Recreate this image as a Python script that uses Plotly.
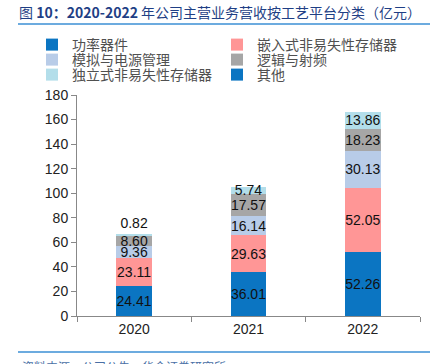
import plotly.graph_objects as go

years = ["2020", "2021", "2022"]
power = [24.41, 36.01, 52.26]
embedded = [23.11, 29.63, 52.05]
analog = [9.36, 16.14, 30.13]
logic_rf = [8.60, 17.57, 18.23]
standalone = [0.82, 5.74, 13.86]
other = [None, None, None]

names = ["功率器件", "嵌入式非易失性存储器", "模拟与电源管理", "逻辑与射频", "独立式非易失性存储器", "其他"]
colors = ["#0B75C2", "#FF9696", "#B8CCE8", "#A6A6A6", "#B3DEEA", "#0B75C2"]
series = [power, embedded, analog, logic_rf, standalone, other]
legend_ids = ["legend", "legend2", "legend3", "legend4", "legend5", "legend6"]

W, H = 434, 364
L, R, T, B = 77, 420, 95, 316


def xp(px):
    return (px - L) / (R - L)


def yp(py):
    return (B - py) / (B - T)


fig = go.Figure()
for i, (nm, vals, col, lg) in enumerate(zip(names, series, colors, legend_ids)):
    tp = "inside"
    if i == 4:
        tp = ["outside", "inside", "inside"]
    fig.add_trace(go.Bar(
        x=years, y=vals, name=nm, marker=dict(color=col, line=dict(width=0)),
        text=[f"{v:.2f}" if v is not None else "" for v in vals],
        textposition=tp, insidetextanchor="middle", textangle=0,
        textfont=dict(color="#111111", size=14, family="Liberation Sans, Arial"),
        outsidetextfont=dict(color="#111111", size=14, family="Liberation Sans, Arial"),
        constraintext="none", cliponaxis=False,
        legend=lg, width=0.31,
    ))

leg_common = dict(orientation="v", xanchor="left", yanchor="middle",
                  font=dict(size=14, color="#505050", family="Noto Sans CJK SC"),
                  bgcolor="rgba(0,0,0,0)", itemclick=False, itemdoubleclick=False)

leg_pos = [(32, 45), (217, 45), (32, 60), (217, 60), (32, 75), (217, 75)]
leg_layout = {}
for lg, (lx, ly) in zip(legend_ids, leg_pos):
    leg_layout[lg] = dict(x=xp(lx), y=yp(ly), **leg_common)

fig.update_layout(
    width=W, height=H,
    margin=dict(l=L, r=W - R, t=T, b=H - B, pad=0),
    paper_bgcolor="white", plot_bgcolor="white",
    barmode="stack",
    uniformtext=dict(minsize=14, mode="show"),
    showlegend=True,
    font=dict(family="Liberation Sans, Arial", color="#222222"),
    xaxis=dict(showline=True, linecolor="#888888", linewidth=1,
               ticks="outside", tickson="boundaries", ticklen=5, tickcolor="#888888",
               tickfont=dict(size=14, color="#222222"), showgrid=False),
    yaxis=dict(range=[0, 180], dtick=20, showline=True, linecolor="#888888", linewidth=1,
               ticks="outside", ticklen=5, tickcolor="#888888",
               tickfont=dict(size=14, color="#222222"), showgrid=False, zeroline=False),
    **leg_layout,
)

fig.add_annotation(
    xref="paper", yref="paper", x=xp(17), y=yp(12), xanchor="left", yanchor="middle",
    text="图 <b>10：2020-2022</b> 年公司主营业务营收按工艺平台分类（亿元）",
    showarrow=False, font=dict(size=14, color="#1F3F85", family="Noto Sans CJK SC"),
)
fig.add_annotation(
    xref="paper", yref="paper", x=xp(20), y=yp(356), xanchor="left", yanchor="top",
    text="资料来源：公司公告，华金证券研究所",
    showarrow=False, font=dict(size=12, color="#4A6FA5", family="Noto Sans CJK SC"),
)
fig.add_shape(type="line", xref="paper", yref="paper", x0=xp(18), x1=xp(430), y0=yp(24), y1=yp(24),
              line=dict(color="#3B8FD4", width=1.5))
fig.add_shape(type="line", xref="paper", yref="paper", x0=xp(18), x1=xp(430), y0=yp(352), y1=yp(352),
              line=dict(color="#3B8FD4", width=1.5))

fig.write_html("out.html", config={"displayModeBar": False},
               post_script="document.body.style.margin='0';")
